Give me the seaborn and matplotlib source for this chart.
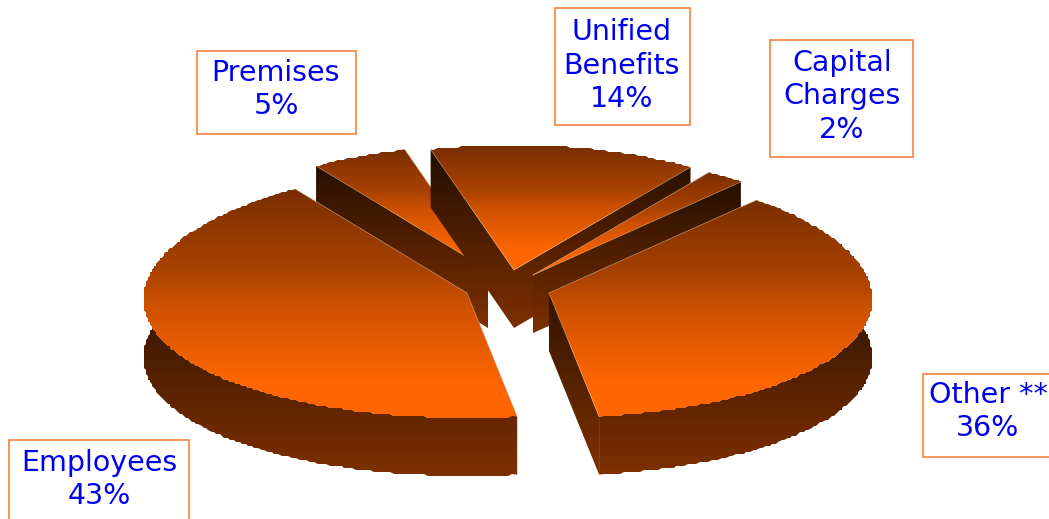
import numpy as np
import matplotlib
matplotlib.use("Agg")
import matplotlib.pyplot as plt
from matplotlib.patches import Polygon, Rectangle
import seaborn as sns

# Budget shares, counter-clockwise from the front of the pie
categories = ["Other **", "Capital\nCharges", "Unified\nBenefits", "Premises", "Employees"]
shares = [36, 2, 14, 5, 43]

# Pie geometry in pixels
START_ANGLE = -81.5
CENTER = (510, 280)
RX, RY, DEPTH = 323, 125, 58
TAPER = 0.05            # the far side of the pie is drawn slightly narrower
ROUGHNESS = 2.0         # grid the rim snaps to, giving it a slightly uneven outline
OFFSETS = [(39, 13), (23, -5), (4, -10), (-22, -10), (-43, 13)]
DRAW_ORDER = [3, 2, 1, 0, 4]

# Callout boxes: left, top, right, bottom, and the centre of the first text line
BOXES = [
    (923, 374, 1060, 457, 988, 395),
    (770, 40, 913, 157, 842, 63),
    (555, 8, 690, 125, 622, 32),
    (197, 51, 356, 134, 276, 73),
    (9, 440, 189, 530, 99, 463),
]
LINE_STEP = 33.5

sns.set_theme(style="white")
top_cmap = sns.blend_palette(["#7a2e00", "#ff6600"], as_cmap=True)
wall_cmap = sns.blend_palette(["#1f0d00", "#7e3000"], as_cmap=True)

fig = plt.figure(figsize=(10.49, 5.19), dpi=100, facecolor="white")
ax = fig.add_axes([0, 0, 1, 1])
W, H = 1049, 519


def paint(points, cmap, y0, y1, stops=None, z=1):
    """Fill a polygon with a vertical gradient running from y0 to y1."""
    patch = Polygon(points, closed=True, fc="none", ec="none", transform=ax.transData)
    ax.add_patch(patch)
    grad = np.linspace(0, 1, 256)
    if stops is not None:
        grad = np.interp(grad, stops[0], stops[1])
    xs = points[:, 0]
    im = ax.imshow(grad.reshape(-1, 1), cmap=cmap, vmin=0, vmax=1, aspect="auto",
                   extent=(xs.min() - 1, xs.max() + 1, y1, y0),
                   interpolation="bilinear", zorder=z)
    im.set_clip_path(patch)


TOP_STOPS = ([0, 0.35, 0.5, 0.85, 1], [0, 0.35, 0.62, 1, 1])

edges = np.cumsum([0] + shares) * 3.6 + START_ANGLE
z = 1
for i in DRAW_ORDER:
    px, py = CENTER[0] + OFFSETS[i][0], CENTER[1] + OFFSETS[i][1]
    n = max(10, shares[i] * 5)
    t = np.radians(np.linspace(edges[i], edges[i + 1], n))
    sy = -RY * np.sin(t)
    sx = RX * np.cos(t) * (1 + TAPER * sy / RY)
    rim = np.column_stack([px + sx, py + sy])
    rim[1:-1] = np.round(rim[1:-1] / ROUGHNESS) * ROUGHNESS
    apex = np.array([[px, py]], dtype=float)
    top = np.vstack([apex, rim])
    down = np.array([0, DEPTH])

    wall_lo = top[:, 1].max() + DEPTH
    # The gradient on the sides starts where the side first shows
    front = rim[np.sin(t) < 0.35]
    wall_hi = top[:, 1].min() if len(front) == 0 or i in (1, 2, 3) else front[:, 1].min()

    walls = [
        np.vstack([rim, (rim + down)[::-1]]),
        np.vstack([apex, rim[:1], rim[:1] + down, apex + down]),
        np.vstack([apex, rim[-1:], rim[-1:] + down, apex + down]),
    ]
    for poly in walls:
        paint(poly, wall_cmap, wall_hi, wall_lo, z=z)
    paint(top, top_cmap, top[:, 1].min(), top[:, 1].max(), stops=TOP_STOPS, z=z + 1)

    # Pale hairlines along the straight edges of the slice
    for end in (rim[0], rim[-1]):
        ax.plot([px, end[0]], [py, end[1]], color="#e8c0a0", lw=0.5, alpha=0.7, zorder=z + 1)
    z += 2

for (x0, y0, x1, y1, tx, ty), name, share in zip(BOXES, categories, shares):
    ax.add_patch(Rectangle((x0, y0), x1 - x0, y1 - y0, fc="white", ec="#f88240", lw=1.2, zorder=50))
    lines = name.split("\n") + [f"{share}%"]
    for k, line in enumerate(lines):
        ax.text(tx, ty + k * LINE_STEP, line, color="#0000f0", fontsize=20.5,
                family="DejaVu Sans", ha="center", va="center", zorder=51)

ax.set_xlim(0, W)
ax.set_ylim(H, 0)
ax.axis("off")
fig.savefig("out.png", dpi=100)
